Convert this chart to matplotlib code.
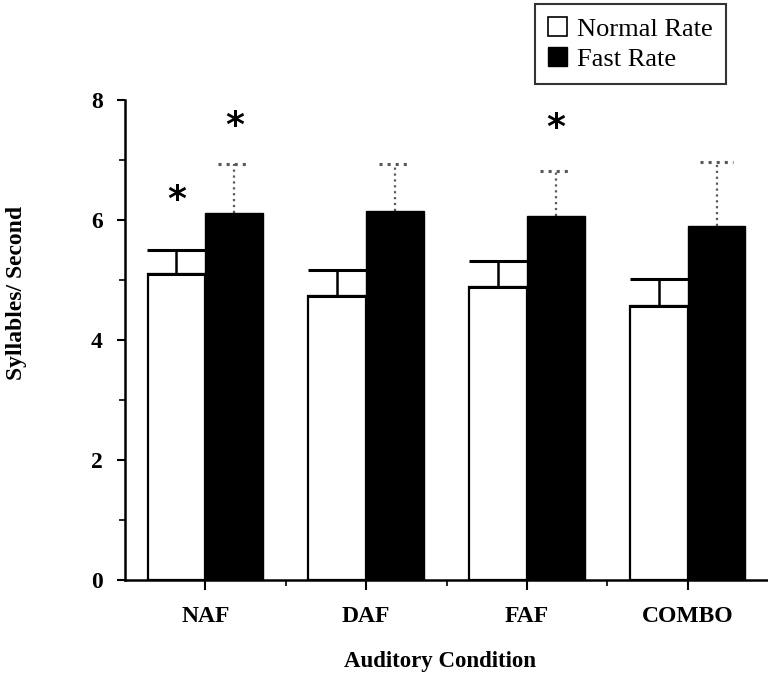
import numpy as np
import matplotlib.pyplot as plt
from matplotlib.patches import Patch

# values
conditions = ["NAF", "DAF", "FAF", "COMBO"]
normal_mean = [5.10, 4.74, 4.89, 4.56]
normal_err = [0.40, 0.43, 0.43, 0.46]
fast_mean = [6.11, 6.15, 6.07, 5.90]
fast_err = [0.82, 0.78, 0.75, 1.06]
# significance markers (height of asterisk, None = no marker)
star_normal = [6.34, None, None, None]
star_fast = [7.57, None, 7.53, None]

plt.rcParams["font.family"] = ["Liberation Serif", "DejaVu Serif"]

fig = plt.figure(figsize=(7.68, 6.78), dpi=100)
ax = fig.add_axes([125 / 768, 98 / 678, 643 / 768, 480 / 678])

x = np.arange(len(conditions))
w = 0.36

ax.bar(x - w / 2, normal_mean, w, color="white", edgecolor="black", linewidth=1.6, zorder=2)
ax.bar(x + w / 2, fast_mean, w, color="black", edgecolor="black", linewidth=1.0, zorder=2)

# error bars (upper only)
ax.errorbar(x - w / 2, normal_mean, yerr=[np.zeros(4), normal_err], fmt="none",
            ecolor="black", elinewidth=1.8, capsize=21, capthick=2.2, zorder=3)
fast_top = np.array(fast_mean) + np.array(fast_err)
ax.vlines(x + w / 2, fast_mean, fast_top, colors="0.35", linestyles=":", linewidth=1.6, zorder=1)
ax.hlines(fast_top, x + w / 2 - 0.1, x + w / 2 + 0.1, colors="0.35", linestyles=":", linewidth=2.2, zorder=1)

for i in range(len(conditions)):
    if star_normal[i] is not None:
        ax.text(x[i] - w / 2, star_normal[i], "*", ha="center", va="center",
                fontsize=26, fontweight="bold", family="DejaVu Sans")
    if star_fast[i] is not None:
        ax.text(x[i] + w / 2, star_fast[i], "*", ha="center", va="center",
                fontsize=26, fontweight="bold", family="DejaVu Sans")

ax.set_xlim(-0.5, 3.5)
ax.set_ylim(0, 8)
ax.set_yticks([0, 2, 4, 6, 8])
ax.set_yticks([1, 3, 5, 7], minor=True)
ax.set_xticks(x)
ax.set_xticks([0.5, 1.5, 2.5], minor=True)
ax.set_xticklabels(conditions, fontsize=17, fontweight="bold")
ax.set_yticklabels(["0", "2", "4", "6", "8"], fontsize=17, fontweight="bold")
ax.tick_params(axis="y", which="major", length=6, width=1.5, pad=10)
ax.tick_params(axis="y", which="minor", length=4, width=1.2)
ax.tick_params(axis="x", which="major", length=7, width=1.5, pad=12)
ax.tick_params(axis="x", which="minor", length=4, width=1.2)

for s in ["top", "right"]:
    ax.spines[s].set_visible(False)
for s in ["left", "bottom"]:
    ax.spines[s].set_linewidth(1.8)

fig.text(440 / 768, 1 - 662 / 678, "Auditory Condition", ha="center", va="center",
         fontsize=16.5, fontweight="bold")
fig.text(17 / 768, 1 - 293 / 678, "Syllables/ Second", ha="center", va="center",
         rotation=90, fontsize=17, fontweight="bold")

handles = [Patch(facecolor="white", edgecolor="black", linewidth=1.2, label="Normal Rate"),
           Patch(facecolor="black", edgecolor="black", label="Fast Rate")]
leg = fig.legend(handles=handles, loc="upper left", bbox_to_anchor=(535 / 768, 1 - 4 / 678),
                 fontsize=19, frameon=True, fancybox=False, handlelength=0.7, handleheight=0.7,
                 handletextpad=0.4, borderpad=0.5, labelspacing=0.25, borderaxespad=0)
leg.get_frame().set_edgecolor("black")
leg.get_frame().set_linewidth(1.5)

fig.savefig("out.png", dpi=100)
